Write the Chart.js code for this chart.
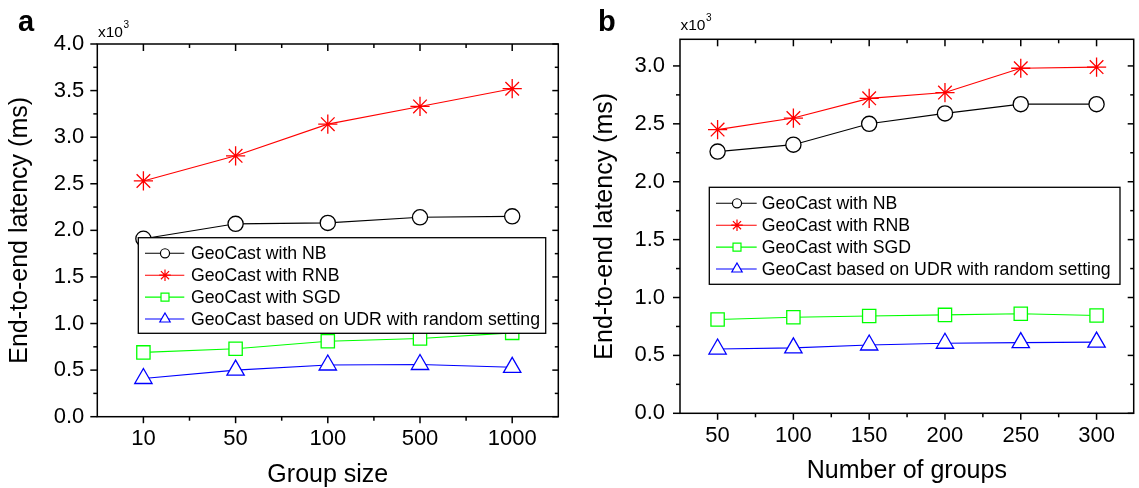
<!DOCTYPE html>
<html lang="en">
<head>
<meta charset="UTF-8">
<title>GeoCast end-to-end latency</title>
<script src="https://cdn.jsdelivr.net/npm/chart.js"></script>
<style>
  html, body { margin: 0; padding: 0; background: #fff; overflow: hidden; }
  #wrap { position: relative; width: 1139px; height: 488px; overflow: hidden; }
  #wrap canvas { position: absolute; top: 0; }
  .tag { position: absolute; font-family: "Liberation Sans", Arial, sans-serif; line-height: 1; white-space: nowrap; color: #000; }
</style>
</head>
<body>
<div id="wrap">
  <canvas id="chartA" width="570" height="488" style="left:0"></canvas>
  <canvas id="chartB" width="575" height="488" style="left:570px"></canvas>

  <div class="tag" style="left:18px; top:6.5px; font-size:29px; font-weight:bold">a</div>
  <div class="tag" style="left:598px; top:7px; font-size:29px; font-weight:bold">b</div>
  <div class="tag" style="left:98px; top:23.6px; font-size:15.5px">x10</div>
  <div class="tag" style="left:123.5px; top:20px; font-size:10px">3</div>
  <div class="tag" style="left:680.5px; top:16.9px; font-size:15.5px">x10</div>
  <div class="tag" style="left:706px; top:13.3px; font-size:10px">3</div>
</div>

<script>
  // values in units of 10^3 ms, as on the y axes
  const groupSizes = ['10', '50', '100', '500', '1000'];
  const sizeNB  = [1.91, 2.07, 2.08, 2.14, 2.15];
  const sizeRNB = [2.53, 2.80, 3.14, 3.33, 3.52];
  const sizeSGD = [0.69, 0.73, 0.81, 0.84, 0.90];
  const sizeUDR = [0.41, 0.50, 0.555, 0.56, 0.53];

  const groupCounts = [50, 100, 150, 200, 250, 300];
  const countNB  = [2.26, 2.32, 2.50, 2.59, 2.67, 2.67];
  const countRNB = [2.45, 2.55, 2.72, 2.77, 2.98, 2.99];
  const countSGD = [0.81, 0.83, 0.84, 0.85, 0.86, 0.845];
  const countUDR = [0.555, 0.565, 0.59, 0.605, 0.61, 0.615];

  const seriesNames = [
    'GeoCast with NB',
    'GeoCast with RNB',
    'GeoCast with SGD',
    'GeoCast based on UDR with random setting'
  ];
  const latencyTicksA = [0, 0.5, 1, 1.5, 2, 2.5, 3, 3.5, 4];
  const latencyTicksB = [0, 0.5, 1, 1.5, 2, 2.5, 3];

  Chart.defaults.font.family = '"Liberation Sans", Arial, sans-serif';
  Chart.defaults.color = '#000';

  const looks = [
    { color: '#000000', style: 'circle',   radius: 7.6 },
    { color: '#ff0000', style: 'star',     radius: 9.6 },
    { color: '#00ff00', style: 'rect',     radius: 9.4 },
    { color: '#0000ff', style: 'triangle', radius: 10 }
  ];

  function makeSets(lists, xs) {
    return lists.map((vals, i) => ({
      label: seriesNames[i],
      data: xs ? vals.map((v, k) => ({ x: xs[k], y: v })) : vals,
      borderColor: looks[i].color,
      borderWidth: 1.1,
      pointStyle: looks[i].style,
      pointRadius: looks[i].radius,
      pointHoverRadius: looks[i].radius,
      pointBorderColor: looks[i].color,
      pointBackgroundColor: '#ffffff',
      pointBorderWidth: 1.3,
      fill: false,
      tension: 0,
      clip: false
    }));
  }

  // box frame with ticks on all four sides, minor ticks halfway between majors
  const frameTicks = {
    id: 'frameTicks',
    afterDatasetsDraw(chart) {
      const { ctx, chartArea: a, scales: { x, y } } = chart;
      const seg = (x1, y1, x2, y2) => { ctx.beginPath(); ctx.moveTo(x1, y1); ctx.lineTo(x2, y2); ctx.stroke(); };
      const mids = v => v.slice(1).map((t, i) => (t + v[i]) / 2);
      const xMaj = x.ticks.map(t => t.value);
      const yMaj = y.ticks.map(t => t.value);

      ctx.save();
      ctx.strokeStyle = '#000';
      ctx.lineWidth = 1.5;
      ctx.strokeRect(a.left, a.top, a.right - a.left, a.bottom - a.top);

      const hTicks = (vals, down, up) => vals.forEach(v => {
        const px = x.getPixelForValue(v);
        if (px < a.left - 0.5 || px > a.right + 0.5) return;
        seg(px, a.bottom, px, a.bottom + down);
        seg(px, a.top, px, a.top + up);
      });
      const vTicks = (vals, out, inn) => vals.forEach(v => {
        const py = y.getPixelForValue(v);
        if (py < a.top - 0.5 || py > a.bottom + 0.5) return;
        seg(a.left - out, py, a.left, py);
        seg(a.right - inn, py, a.right, py);
      });
      hTicks(xMaj, 6.5, 7);
      hTicks(mids(xMaj), 4, 4);
      vTicks(yMaj, 7, 6);
      vTicks(mids(yMaj), 4, 3.5);
      ctx.restore();
    }
  };

  // legend box placed inside the plot, as in the figure
  const boxLegend = {
    id: 'boxLegend',
    afterDraw(chart, args, o) {
      const ctx = chart.ctx;
      ctx.save();
      ctx.fillStyle = '#fff';
      ctx.fillRect(o.left, o.top, o.right - o.left, o.bottom - o.top);
      ctx.strokeStyle = '#000';
      ctx.lineWidth = 1.3;
      ctx.strokeRect(o.left, o.top, o.right - o.left, o.bottom - o.top);
      ctx.font = '17.7px "Liberation Sans", Arial, sans-serif';
      ctx.textBaseline = 'middle';
      ctx.textAlign = 'left';
      chart.data.datasets.forEach((ds, i) => {
        const yy = o.top + o.first + i * o.gap;
        ctx.strokeStyle = ds.borderColor;
        ctx.lineWidth = 1.1;
        ctx.beginPath();
        ctx.moveTo(o.left + o.line[0], yy);
        ctx.lineTo(o.left + o.line[1], yy);
        ctx.stroke();
        ctx.fillStyle = '#fff';
        ctx.lineWidth = 1.2;
        Chart.helpers.drawPoint(ctx, {
          pointStyle: ds.pointStyle, radius: ds.pointRadius * 0.6, borderWidth: 1.2, rotation: 0
        }, o.left + o.marker, yy);
        ctx.fillStyle = '#000';
        ctx.fillText(ds.label, o.left + o.text, yy + 1);
      });
      ctx.restore();
    }
  };

  const tickFont = { size: 22 };
  const titleFont = { size: 25, lineHeight: 1 };

  new Chart(document.getElementById('chartA'), {
    type: 'line',
    data: { labels: groupSizes, datasets: makeSets([sizeNB, sizeRNB, sizeSGD, sizeUDR]) },
    options: {
      responsive: false,
      animation: false,
      layout: { padding: { left: 0, right: 11.7, top: 44, bottom: 0 } },
      plugins: {
        legend: { display: false },
        tooltip: { enabled: false },
        boxLegend: { left: 138.3, top: 237.7, right: 545.7, bottom: 333.3, first: 15.6, gap: 21.9, line: [6.7, 46], marker: 26.7, text: 52.7 }
      },
      scales: {
        x: {
          type: 'category',
          offset: true,
          grid: { display: false, drawTicks: false },
          border: { display: false },
          ticks: { font: tickFont, padding: 9, maxRotation: 0 },
          title: { display: true, text: 'Group size', font: titleFont, padding: { top: 0, bottom: 0 } },
          afterFit: s => { s.height = 71.3; }
        },
        y: {
          min: 0, max: 4,
          grid: { display: false, drawTicks: false },
          border: { display: false },
          afterBuildTicks: s => { s.ticks = latencyTicksA.map(v => ({ value: v })); },
          ticks: { font: tickFont, padding: 13, callback: v => v.toFixed(1) },
          title: { display: true, text: 'End-to-end latency (ms)', font: titleFont, padding: { top: 8, bottom: 0 } },
          afterFit: s => { s.width = 97.3; }
        }
      }
    },
    plugins: [frameTicks, boxLegend]
  });

  new Chart(document.getElementById('chartB'), {
    type: 'line',
    data: { datasets: makeSets([countNB, countRNB, countSGD, countUDR], groupCounts) },
    options: {
      responsive: false,
      animation: false,
      layout: { padding: { left: 0, right: 2, top: 39.3, bottom: 0 } },
      plugins: {
        legend: { display: false },
        tooltip: { enabled: false },
        boxLegend: { left: 139.3, top: 187.3, right: 550, bottom: 284.3, first: 16, gap: 21.9, line: [6.7, 47.4], marker: 27.7, text: 52.4 }
      },
      scales: {
        x: {
          type: 'linear',
          min: 25.2, max: 324.5,
          grid: { display: false, drawTicks: false },
          border: { display: false },
          afterBuildTicks: s => { s.ticks = groupCounts.map(v => ({ value: v })); },
          ticks: { font: tickFont, padding: 9, maxRotation: 0, callback: v => String(v) },
          title: { display: true, text: 'Number of groups', font: titleFont, padding: { top: 0, bottom: 4 } },
          afterFit: s => { s.height = 74.7; }
        },
        y: {
          min: 0, max: 3.23,
          grid: { display: false, drawTicks: false },
          border: { display: false },
          afterBuildTicks: s => { s.ticks = latencyTicksB.map(v => ({ value: v })); },
          ticks: { font: tickFont, padding: 15, callback: v => v.toFixed(1) },
          title: { display: true, text: 'End-to-end latency (ms)', font: titleFont, padding: { top: 22.5, bottom: 0 } },
          afterFit: s => { s.width = 110; }
        }
      }
    },
    plugins: [frameTicks, boxLegend]
  });
</script>
</body>
</html>
